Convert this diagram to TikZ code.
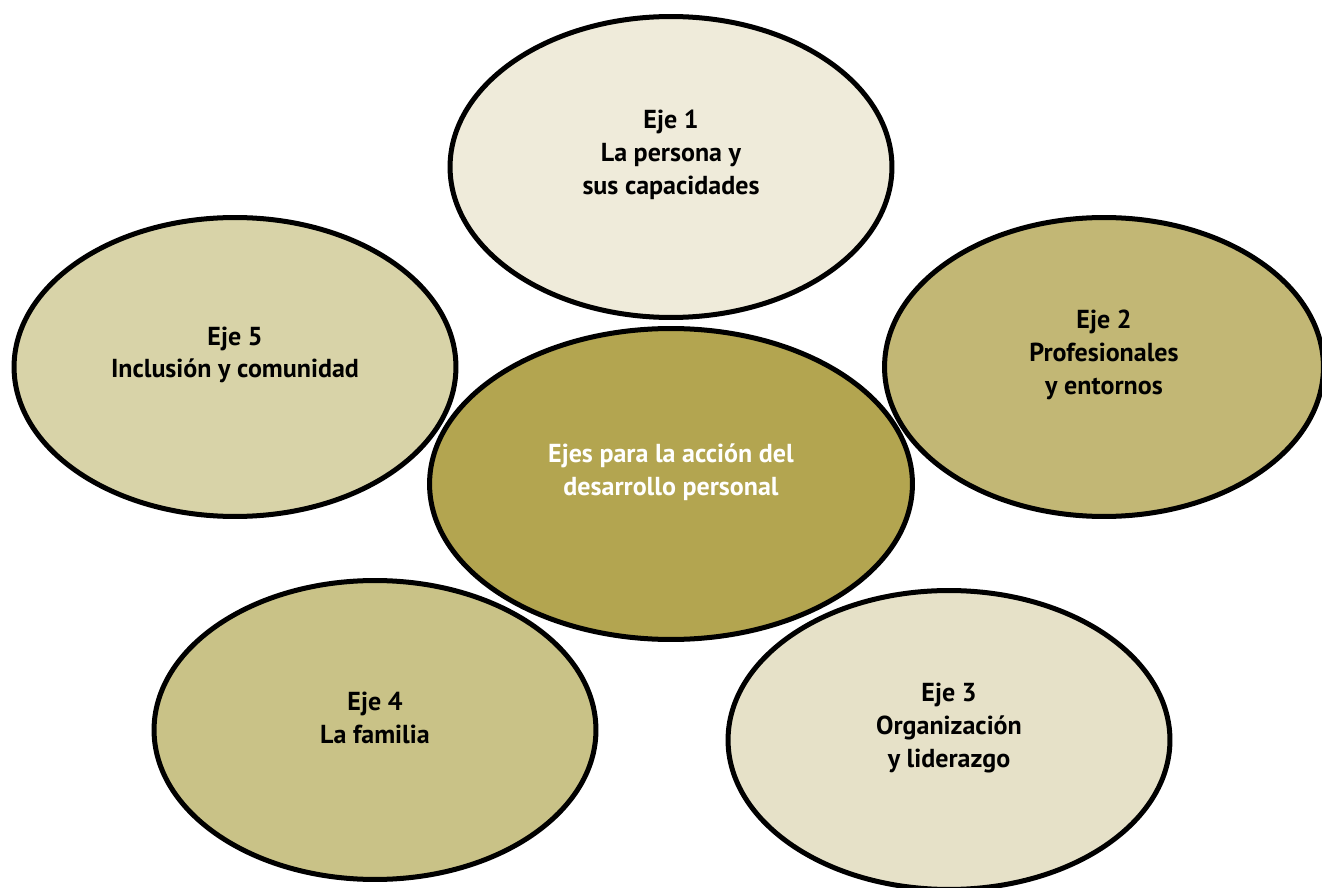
\documentclass[tikz,border=0pt]{standalone}
\usepackage{fontspec}
\setmainfont{PT Sans}
\usetikzlibrary{shapes.geometric}

\definecolor{ejeuno}{HTML}{EFEBDA}
\definecolor{ejedos}{HTML}{C2B775}
\definecolor{ejetres}{HTML}{E6E1C8}
\definecolor{ejecuatro}{HTML}{C9C287}
\definecolor{ejecinco}{HTML}{D8D3A8}
\definecolor{ejecentro}{HTML}{B3A550}

\tikzset{
  eje/.style={ellipse, draw=black, line width=2.85pt, inner sep=0pt,
    minimum width=8.84cm, minimum height=5.98cm},
  ejetext/.style={align=center, yshift=0.24cm,
    font=\bfseries\fontsize{14.8}{18.6}\selectfont},
}

\begin{document}
\begin{tikzpicture}[x=0.02cm,y=-0.02cm]
    \useasboundingbox (0,0) rectangle (1322,888);

    % ejes alrededor
    \node[eje, fill=ejeuno, minimum height=6.02cm] (e1) at (671,167) {};
    \node[eje, fill=ejecinco] (e5) at (235,367) {};
    \node[eje, fill=ejedos, minimum width=8.78cm] (e2) at (1104,367) {};
    \node[eje, fill=ejecuatro] (e4) at (375,730) {};
    \node[eje, fill=ejetres] (e3) at (949,740) {};

    % centro
    \node[eje, fill=ejecentro, minimum width=9.66cm, minimum height=6.22cm] (c) at (671,484) {};

    \node[ejetext] (t1) at (e1) {Eje 1\\La persona y\\sus capacidades};
    \node[ejetext] (t5) at (e5) {Eje 5\\Inclusión y comunidad};
    \node[ejetext] (t2) at (e2) {Eje 2\\Profesionales\\y entornos};
    \node[ejetext] (t4) at (e4) {Eje 4\\La familia};
    \node[ejetext] (t3) at (e3) {Eje 3\\Organización\\y liderazgo};
    \node[ejetext, text=white] (tc) at (c) {Ejes para la acción del\\desarrollo personal};
\end{tikzpicture}
\end{document}
